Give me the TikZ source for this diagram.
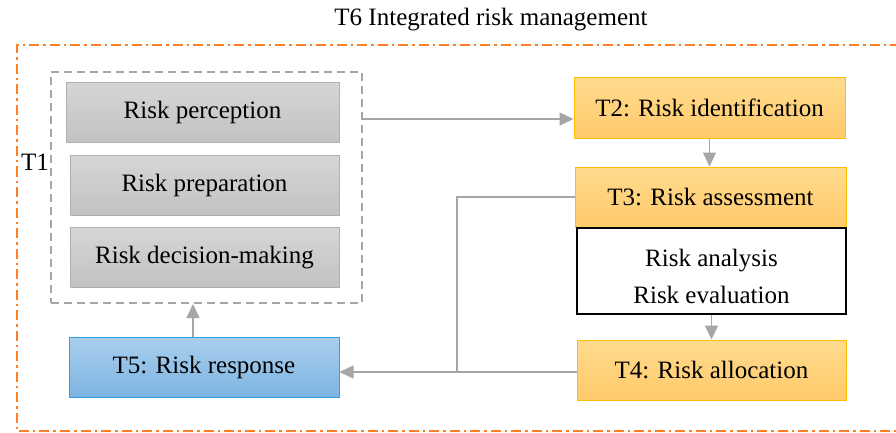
\documentclass[tikz,border=0pt]{standalone}
\usepackage{fontspec}
\setmainfont{Liberation Serif}
\usetikzlibrary{arrows.meta}
\definecolor{frameor}{HTML}{FF7F27}
\definecolor{linegray}{HTML}{A6A6A6}
\definecolor{boxgrayT}{HTML}{D6D6D6}
\definecolor{boxgrayB}{HTML}{C2C2C2}
\definecolor{boxgrayD}{HTML}{B0B0B0}
\definecolor{orT}{HTML}{FFDB8E}
\definecolor{orB}{HTML}{FFCA6A}
\definecolor{orD}{HTML}{FFC000}
\definecolor{blT}{HTML}{A9CFEE}
\definecolor{blB}{HTML}{7EB4E1}
\definecolor{blD}{HTML}{2EA0E0}
\tikzset{
  x=1pt, y=-1pt,
  txt/.style={font=\fontsize{25}{30}\selectfont, inner sep=0pt},
  graybox/.style={txt, draw=boxgrayD, line width=1pt, top color=boxgrayT, bottom color=boxgrayB, minimum width=271pt, minimum height=60pt},
  orbox/.style={txt, draw=orD, line width=1pt, top color=orT, bottom color=orB, minimum width=271pt, minimum height=60pt},
  bluebox/.style={txt, draw=blD, line width=1pt, top color=blT, bottom color=blB, minimum width=270pt, minimum height=60pt},
  conn/.style={draw=linegray, line width=1.4pt},
  arr/.style={conn, -{Triangle[length=14pt,width=13pt]}},
}
\begin{document}
\begin{tikzpicture}
\useasboundingbox (0,0) rectangle (896,433);
% title
\node[txt] (title) at (491,20) {T6 Integrated risk management};
% outer dash-dot frame (open on the right)
\draw[frameor, line width=2pt, dash pattern=on 10pt off 4pt on 2.5pt off 4pt]
  (900,45) -- (17,45) -- (17,431) -- (900,431);
% T1 dashed group
\node[draw=linegray, line width=2pt, dash pattern=on 8pt off 5pt, minimum width=311pt, minimum height=231pt, inner sep=0pt] (t1) at (206.5,187.5) {};
\node[txt] (t1lab) at (35,162) {T1};
\node[graybox, minimum width=273pt] (perc) at (202.5,112.5) {Risk perception};
\node[graybox, minimum width=269pt] (prep) at (204.5,185.5) {Risk preparation};
\node[graybox, minimum width=269pt] (dec) at (204.5,257.5) {Risk decision-making};
% right column
\node[orbox] (t2) at (709.5,108) {T2: Risk identification};
\node[orbox] (t3) at (710.5,197) {T3: Risk assessment};
\node[draw=black, line width=1.3pt, fill=white, minimum width=269pt, minimum height=86pt, inner sep=0pt] (ana) at (711.5,271) {};
\node[txt, align=center, yshift=-5pt] (anatxt) at (ana.center) {Risk analysis\\[7pt]Risk evaluation};
\node[orbox, minimum width=269pt] (t4) at (711.5,370) {T4: Risk allocation};
% T5
\node[bluebox] (t5) at (204,367) {T5: Risk response};
% connectors
\coordinate (a1) at (362,119);
\draw[arr] (t1.east |- a1) -- (t2.west |- a1);
\draw[arr] (t2.south) -- (t2.south |- t3.north);
\draw[arr] (ana.south) -- (ana.south |- t4.north);
\coordinate (j) at (457,372);
\draw[conn] (t3.west) -| (j);
\draw[conn] (t4.west |- j) -- (j);
\draw[arr] (j) -- (t5.east |- j);
\coordinate (a5) at (193,0);
\draw[arr] (t5.north -| a5) -- (t1.south -| a5);
\end{tikzpicture}
\end{document}
